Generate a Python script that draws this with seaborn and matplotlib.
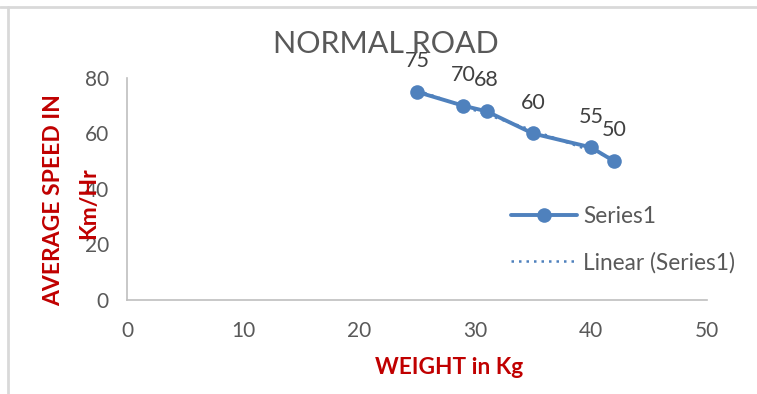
import matplotlib
matplotlib.use('Agg')
import matplotlib.pyplot as plt
import seaborn as sns
import numpy as np
import pandas as pd
from matplotlib.lines import Line2D

# --- data ---
weight = [25, 29, 31, 35, 40, 42]
speed = [75, 70, 68, 60, 55, 50]
x_ticks = [0, 10, 20, 30, 40, 50]
y_ticks = [0, 20, 40, 60, 80]

df = pd.DataFrame({'weight': weight, 'speed': speed})

sns.set_theme(style='white')
plt.rcParams['font.family'] = ['Lato', 'DejaVu Sans']

blue = '#4F81BD'
red = '#C00000'
grey = '#595959'

fig = plt.figure(figsize=(7.57, 3.94), dpi=100)
ax = fig.add_axes([127 / 757, 1 - 300 / 394, 580 / 757, 222 / 394])

# linear trendline (least squares on the series)
k, b = np.polyfit(weight, speed, 1)
xs = np.array([min(weight), max(weight)])
ax.plot(xs, k * xs + b, color=blue, lw=1.8, ls=(0, (1, 2)), zorder=2)

sns.lineplot(data=df, x='weight', y='speed', ax=ax, color=blue, lw=2.8,
             marker='o', markersize=10.5, markeredgewidth=0, zorder=3,
             legend=False)

for xv, yv in zip(weight, speed):
    ax.annotate(str(yv), (xv, yv), xytext=(0, 15), textcoords='offset points',
                ha='center', va='bottom', fontsize=15.5, color='#404040',
                annotation_clip=False)

ax.set_xlim(0, 50)
ax.set_ylim(0, 80)
ax.set_xticks(x_ticks)
ax.set_yticks(y_ticks)
ax.tick_params(axis='both', labelsize=15, labelcolor=grey, length=0)
ax.tick_params(axis='x', pad=15)
ax.tick_params(axis='y', pad=13)
for s in ['top', 'right']:
    ax.spines[s].set_visible(False)
for s in ['left', 'bottom']:
    ax.spines[s].set_color('#BFBFBF')
    ax.spines[s].set_linewidth(1.2)
ax.set_xlabel('')
ax.set_ylabel('')

fig.text(386 / 757, 1 - 44 / 394, 'NORMAL ROAD', ha='center', va='center',
         fontsize=22, color=grey)
fig.text(449 / 757, 1 - 368 / 394, 'WEIGHT in Kg', ha='center', va='center',
         fontsize=16.3, color=red, fontweight='bold')
fig.text(54 / 757, 1 - 200 / 394, 'AVERAGE SPEED IN', ha='center', va='center',
         rotation=90, fontsize=16.5, color=red, fontweight='bold')
fig.text(89 / 757, 1 - 203 / 394, 'Km/Hr', ha='center', va='center',
         rotation=90, fontsize=16.5, color=red, fontweight='bold')

handles = [
    Line2D([], [], color=blue, lw=2.8, marker='o', markersize=10.5, markeredgewidth=0),
    Line2D([], [], color=blue, lw=1.8, ls=(0, (1, 2))),
]
fig.legend(handles, ['Series1', 'Linear (Series1)'], loc='upper left',
           bbox_to_anchor=(511 / 757, 1 - 206 / 394), frameon=False,
           fontsize=16.3, labelcolor=grey, handlelength=2.9, labelspacing=1.1,
           handletextpad=0.3, borderaxespad=0, borderpad=0)

# document frame lines
fig.add_artist(Line2D([0, 1], [1 - 7 / 394, 1 - 7 / 394], color='#D9D9D9', lw=2,
                      transform=fig.transFigure))
fig.add_artist(Line2D([8 / 757, 8 / 757], [0, 1 - 7 / 394], color='#D9D9D9', lw=2,
                      transform=fig.transFigure))

fig.savefig('out.png', dpi=100)
